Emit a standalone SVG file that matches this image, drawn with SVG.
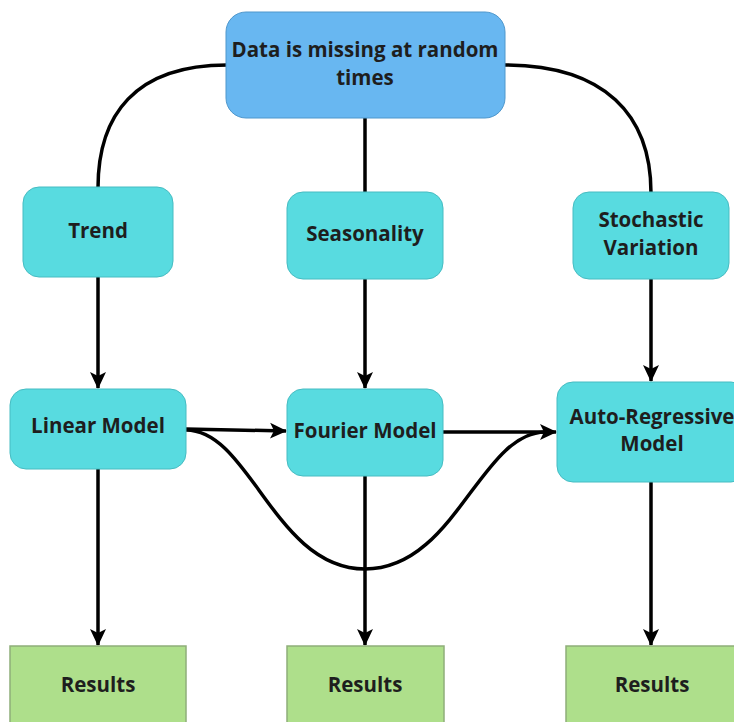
<svg xmlns="http://www.w3.org/2000/svg" width="734" height="722" viewBox="0 0 734 722">
  <style>
    .lbl { font-family: "Open Sans", "Noto Sans", "Liberation Sans", sans-serif; font-weight: 700; font-size: 20.5px; fill: #1e1e1e; text-anchor: middle; }
    .root { fill: #68b7f1; stroke: #4f97cc; stroke-width: 1; }
    .step { fill: #58dbe0; stroke: #46bcc2; stroke-width: 1; }
    .out { fill: #aedf8b; stroke: #8fae7a; stroke-width: 1.5; }
    .edge { fill: none; stroke: #000; stroke-width: 3.5; }
  </style>
  <defs>
    <marker id="arrow" markerUnits="userSpaceOnUse" markerWidth="18" markerHeight="18" refX="16" refY="9" orient="auto">
      <path d="M0,1 L17,9 L0,17 L4,9 Z" fill="#000"/>
    </marker>
  </defs>

  <rect width="734" height="722" fill="#ffffff"/>

  <!-- connectors -->
  <g id="connectors">
    <path class="edge" d="M227,65 C135,65 98,115 98,188"/>
    <path class="edge" d="M365,118 L365,193"/>
    <path class="edge" d="M504,65 C605,65 651,115 651,193"/>

    <path class="edge" marker-end="url(#arrow)" d="M98,277 L98,388"/>
    <path class="edge" marker-end="url(#arrow)" d="M365,279 L365,388"/>
    <path class="edge" marker-end="url(#arrow)" d="M651,279 L651,381"/>

    <path class="edge" marker-end="url(#arrow)" d="M186,429 L286,431"/>
    <path class="edge" marker-end="url(#arrow)" d="M443,432 L556,432"/>
    <path class="edge" d="M186,430 C250,430 275,569 365,569 C455,569 480,433 545,432"/>

    <path class="edge" marker-end="url(#arrow)" d="M98,469 L98,645"/>
    <path class="edge" marker-end="url(#arrow)" d="M365,476 L365,645"/>
    <path class="edge" marker-end="url(#arrow)" d="M651,482 L651,645"/>
  </g>

  <g id="node-missing">
    <rect class="root" x="226" y="12" width="279" height="106" rx="20"/>
    <text class="lbl" x="365" y="57">Data is missing at random</text>
    <text class="lbl" x="365" y="85">times</text>
  </g>

  <g id="node-trend">
    <rect class="step" x="23" y="187" width="150" height="90" rx="16"/>
    <text class="lbl" x="98" y="238">Trend</text>
  </g>

  <g id="node-seasonality">
    <rect class="step" x="287" y="192" width="156" height="87" rx="16"/>
    <text class="lbl" x="365" y="241">Seasonality</text>
  </g>

  <g id="node-stochastic">
    <rect class="step" x="573" y="192" width="156" height="87" rx="16"/>
    <text class="lbl" x="651" y="227">Stochastic</text>
    <text class="lbl" x="651" y="255">Variation</text>
  </g>

  <g id="node-linear">
    <rect class="step" x="10" y="389" width="176" height="80" rx="16"/>
    <text class="lbl" x="98" y="433">Linear Model</text>
  </g>

  <g id="node-fourier">
    <rect class="step" x="287" y="389" width="156" height="87" rx="16"/>
    <text class="lbl" x="365" y="438">Fourier Model</text>
  </g>

  <g id="node-autoregressive">
    <rect class="step" x="557" y="382" width="190" height="100" rx="16"/>
    <text class="lbl" x="652" y="424">Auto-Regressive</text>
    <text class="lbl" x="652" y="451">Model</text>
  </g>

  <g id="node-results-1">
    <rect class="out" x="10" y="646" width="176" height="90"/>
    <text class="lbl" x="98" y="692">Results</text>
  </g>

  <g id="node-results-2">
    <rect class="out" x="287" y="646" width="157" height="90"/>
    <text class="lbl" x="365" y="692">Results</text>
  </g>

  <g id="node-results-3">
    <rect class="out" x="566" y="646" width="176" height="90"/>
    <text class="lbl" x="652" y="692">Results</text>
  </g>
</svg>
